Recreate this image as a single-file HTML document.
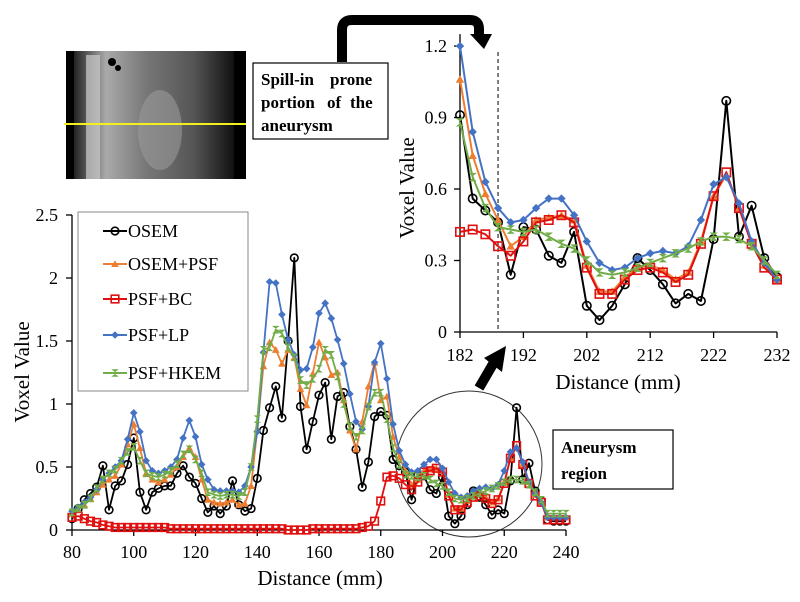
<!DOCTYPE html>
<html><head><meta charset="utf-8"><style>
html,body{margin:0;padding:0;background:#fff;}
svg{display:block;font-family:"Liberation Serif",serif;}
</style></head><body>
<svg id="fig" width="800" height="602" viewBox="0 0 800 602" xmlns="http://www.w3.org/2000/svg">
  <defs>
    <linearGradient id="ctg" x1="0" x2="1">
      <stop offset="0" stop-color="#222"/><stop offset="0.2" stop-color="#aaa"/><stop offset="0.45" stop-color="#777"/><stop offset="0.75" stop-color="#555"/><stop offset="1" stop-color="#111"/>
    </linearGradient>
  </defs>
  <g>
    <rect x="66" y="51" width="180" height="128" fill="#000"/>
    <rect x="74" y="51" width="160" height="128" fill="url(#ctg)"/>
    <rect x="86" y="55" width="14" height="124" fill="#ccc" opacity="0.7"/>
    <ellipse cx="160" cy="130" rx="22" ry="40" fill="#999" opacity="0.6"/>
    <circle cx="112" cy="62" r="4" fill="#000"/><circle cx="118" cy="68" r="3" fill="#000"/>
    <line x1="64" y1="124" x2="246" y2="124" stroke="#f0f020" stroke-width="2"/>
  </g>
  <g>
    <path d="M342 62 V30 Q342 20 352 20 H470 Q479 20 479 29 V36" fill="none" stroke="#000" stroke-width="10"/>
    <polygon points="470,34 492,34 484,49" fill="#000"/>
    <rect x="253" y="63" width="135" height="76" fill="#fff" stroke="#000" stroke-width="1.2"/>
    <text font-weight="bold" font-size="17">
      <tspan x="261" y="85">Spill-in</tspan><tspan x="330" y="85">prone</tspan>
      <tspan x="261" y="108">portion</tspan><tspan x="327" y="108">of</tspan><tspan x="350" y="108">the</tspan>
      <tspan x="261" y="131">aneurysm</tspan>
    </text>
  </g>
  <g>
    <circle cx="469" cy="464" r="73" fill="none" stroke="#333" stroke-width="1"/>
    <line x1="479" y1="388" x2="493" y2="364" stroke="#000" stroke-width="10"/>
    <polygon points="484,358 506,346 502,372" fill="#000"/>
    <rect x="553" y="430" width="120" height="59" fill="#fff" stroke="#000" stroke-width="1.2"/>
    <text font-weight="bold" font-size="17"><tspan x="561" y="453">Aneurysm</tspan><tspan x="561" y="479">region</tspan></text>
  </g>
  <g id="main"></g>
  <g id="inset"></g>
</svg>
<script>
const mainEarlyX0 = 80;
const blackEarly = [0.09,0.17,0.24,0.29,0.34,0.51,0.16,0.35,0.39,0.52,0.73,0.30,0.16,0.30,0.33,0.35,0.35,0.45,0.51,0.42,0.37,0.25,0.14,0.19,0.13,0.19,0.39,0.20,0.15,0.17,0.41,0.79,0.97,1.14,0.89,1.50,2.16,0.98,0.64,0.86,1.07,1.17,0.72,1.06,1.09,0.82,0.64,0.34,0.54,0.90,0.94];
const orangeEarly = [0.13,0.16,0.20,0.25,0.30,0.36,0.40,0.43,0.52,0.68,0.84,0.65,0.45,0.40,0.38,0.40,0.44,0.50,0.58,0.65,0.58,0.40,0.24,0.22,0.21,0.22,0.24,0.20,0.21,0.35,0.80,1.30,1.49,1.43,1.32,1.43,1.37,1.12,0.99,1.24,1.49,1.37,1.23,1.25,1.03,0.79,0.64,0.86,1.14,1.33,1.03];
const redEarly = [0.10,0.11,0.09,0.07,0.06,0.04,0.03,0.02,0.02,0.02,0.02,0.02,0.02,0.02,0.02,0.02,0.01,0.01,0.01,0.01,0.01,0.01,0.01,0.01,0.01,0.01,0.01,0.01,0.01,0.01,0.01,0.01,0.01,0.01,0.01,0.0,0.0,0.0,0.0,0.01,0.01,0.01,0.01,0.01,0.01,0.01,0.01,0.02,0.03,0.07,0.23];
const blueEarly = [0.15,0.18,0.22,0.26,0.32,0.40,0.45,0.50,0.55,0.72,0.93,0.78,0.55,0.47,0.45,0.47,0.50,0.56,0.73,0.87,0.74,0.52,0.40,0.32,0.31,0.31,0.31,0.30,0.35,0.50,0.78,1.41,1.97,1.96,1.71,1.51,1.39,1.27,1.28,1.45,1.72,1.80,1.68,1.51,1.32,1.08,0.86,0.80,0.98,1.33,1.48];
const greenEarly = [0.14,0.17,0.20,0.25,0.33,0.40,0.45,0.48,0.55,0.62,0.66,0.55,0.45,0.43,0.42,0.44,0.47,0.52,0.60,0.64,0.56,0.45,0.30,0.28,0.27,0.28,0.28,0.27,0.30,0.50,0.88,1.43,1.45,1.59,1.56,1.45,1.37,1.19,1.15,1.20,1.28,1.43,1.39,1.22,1.00,0.82,0.74,0.79,0.98,1.09,1.09];

const insetX0 = 182;
const blackInset = [0.91,0.56,0.51,0.46,0.24,0.44,0.43,0.32,0.29,0.42,0.11,0.05,0.11,0.20,0.31,0.26,0.20,0.12,0.16,0.13,0.39,0.97,0.40,0.53,0.31,0.23];
const orangeInset = [1.06,0.74,0.58,0.47,0.36,0.40,0.47,0.48,0.49,0.47,0.28,0.17,0.17,0.23,0.27,0.28,0.26,0.22,0.25,0.38,0.57,0.66,0.52,0.38,0.28,0.22];
const redInset = [0.42,0.43,0.41,0.36,0.32,0.38,0.46,0.47,0.49,0.46,0.27,0.16,0.16,0.22,0.26,0.27,0.25,0.21,0.24,0.37,0.57,0.67,0.52,0.37,0.27,0.22];
const blueInset = [1.20,0.84,0.63,0.52,0.46,0.47,0.52,0.56,0.56,0.49,0.38,0.29,0.26,0.27,0.31,0.33,0.34,0.33,0.36,0.47,0.62,0.65,0.54,0.38,0.29,0.22];
const greenInset = [0.88,0.65,0.52,0.44,0.43,0.42,0.43,0.40,0.37,0.35,0.30,0.25,0.24,0.25,0.27,0.29,0.31,0.33,0.35,0.38,0.40,0.40,0.39,0.36,0.30,0.24];

const blackTail = [0.08,0.07,0.07,0.07];
const orangeTail = [0.10,0.10,0.10,0.10];
const redTail = [0.08,0.08,0.08,0.08];
const blueTail = [0.10,0.10,0.10,0.10];
const greenTail = [0.13,0.13,0.13,0.13];

const seriesNames = ["OSEM","OSEM+PSF","PSF+BC","PSF+LP","PSF+HKEM"];
const mainXTicks = [80,100,120,140,160,180,200,220,240];
const mainYTicks = [0,0.5,1,1.5,2,2.5];
const mainYLabels = ["0","0.5","1","1.5","2","2.5"];
const insetXTicks = [182,192,202,212,222,232];
const insetYTicks = [0,0.3,0.6,0.9,1.2];
const insetYLabels = ["0","0.3","0.6","0.9","1.2"];
const spillLineX = 188;

const NS = "http://www.w3.org/2000/svg";
function mk(parent, tag, attrs, text){
  const e = document.createElementNS(NS, tag);
  for (const k in attrs) e.setAttribute(k, attrs[k]);
  if (text !== undefined) e.textContent = text;
  parent.appendChild(e);
  return e;
}
const styles = [
  {color:"#000000", marker:"circle"},
  {color:"#ED7D31", marker:"triangle"},
  {color:"#E01010", marker:"square"},
  {color:"#4472C4", marker:"diamond"},
  {color:"#70AD47", marker:"bowtie"}
];
function marker(g, type, x, y, s, color){
  let e;
  if (type === "circle") e = mk(g, "circle", {cx:x, cy:y, r:s, fill:"none", stroke:color, "stroke-width":1.6});
  else if (type === "square") e = mk(g, "rect", {x:x-s, y:y-s, width:2*s, height:2*s, fill:"none", stroke:color, "stroke-width":1.6});
  else if (type === "triangle") e = mk(g, "polygon", {points:`${x},${y-s} ${x+s},${y+s*0.8} ${x-s},${y+s*0.8}`, fill:color});
  else if (type === "diamond") e = mk(g, "polygon", {points:`${x},${y-s} ${x+s},${y} ${x},${y+s} ${x-s},${y}`, fill:color});
  else e = mk(g, "polygon", {points:`${x-s},${y-s} ${x+s},${y-s} ${x-s*0.3},${y} ${x+s},${y+s} ${x-s},${y+s} ${x+s*0.3},${y}`, fill:color});
  
  
}
function drawSeries(g, xs, vals, sx, sy, st, ms, lw, name){
  const sg = mk(g, "g", {});
  
  
  const pts = vals.map((v,i)=>`${sx(xs[i]).toFixed(1)},${sy(v).toFixed(1)}`).join(" ");
  const pl = mk(sg, "polyline", {points:pts, fill:"none", stroke:st.color, "stroke-width":lw, "stroke-linejoin":"round"});
  
  
  vals.forEach((v,i)=>marker(sg, st.marker, sx(xs[i]), sy(v), ms, st.color));
}

/* ---------- main chart ---------- */
const M = document.getElementById("main");
const mx = v => 72 + (v - 80) * 3.0875;
const my = v => 530 - v * 126;
const mainSeries = [
  blackEarly.concat(blackInset, blackTail),
  orangeEarly.concat(orangeInset, orangeTail),
  redEarly.concat(redInset, redTail),
  blueEarly.concat(blueInset, blueTail),
  greenEarly.concat(greenInset, greenTail)
];
const ax = mk(M, "g", {stroke:"#000", "stroke-width":1.3});


mk(ax, "line", {x1:mx(80), y1:my(0), x2:mx(240), y2:my(0)});
mk(ax, "line", {x1:mx(80), y1:my(0), x2:mx(80), y2:my(2.5)});
mainXTicks.forEach(t=>{
  mk(ax, "line", {x1:mx(t), y1:my(0), x2:mx(t), y2:my(0)+6});
  const tl = mk(M, "text", {x:mx(t), y:558, "font-size":18, "text-anchor":"middle"}, String(t));
  
  
});
mainYTicks.forEach((t,i)=>{
  mk(ax, "line", {x1:mx(80)-6, y1:my(t), x2:mx(80), y2:my(t)});
  const tl = mk(M, "text", {x:58, y:my(t)+6, "font-size":18, "text-anchor":"end"}, mainYLabels[i]);
  
  
});
const mxt = mk(M, "text", {x:320, y:585, "font-size":21, "text-anchor":"middle"}, "Distance (mm)");


const myt = mk(M, "text", {x:0, y:0, "font-size":21, "text-anchor":"middle", transform:"translate(29,372) rotate(-90)"}, "Voxel Value");


const mainXs = mainSeries[0].map((_,i)=>mainEarlyX0 + 2*i);
mainSeries.forEach((vals,k)=>drawSeries(M, mainXs, vals, mx, my, styles[k], 3.8, 1.8, 'series-' + seriesNames[k].toLowerCase().replace('+','-')));

/* legend */
const L = mk(M, "g", {});


mk(L, "rect", {x:78, y:212, width:170, height:179, fill:"#fff", stroke:"#888", "stroke-width":1});
const legY = [231,264,299,335,373];
seriesNames.forEach((n,k)=>{
  const eg = mk(L, "g", {});
  
  
  mk(eg, "line", {x1:103, y1:legY[k], x2:127, y2:legY[k], stroke:styles[k].color, "stroke-width":2});
  marker(eg, styles[k].marker, 115, legY[k], 3.8, styles[k].color);
  mk(eg, "text", {x:128, y:legY[k]+6, "font-size":18}, n);
});

/* ---------- inset chart ---------- */
const I = document.getElementById("inset");
const ix = v => 460 + (v - 182) * 6.34;
const iy = v => 332 - v * 238.3;
const iax = mk(I, "g", {stroke:"#000", "stroke-width":1.3});


mk(iax, "line", {x1:ix(182), y1:iy(0), x2:ix(232), y2:iy(0)});
mk(iax, "line", {x1:ix(182), y1:iy(0), x2:ix(182), y2:iy(1.25)});
insetXTicks.forEach(t=>{
  mk(iax, "line", {x1:ix(t), y1:iy(0), x2:ix(t), y2:iy(0)+6});
  const tl = mk(I, "text", {x:ix(t), y:361, "font-size":18, "text-anchor":"middle"}, String(t));
  
  
});
insetYTicks.forEach((t,i)=>{
  mk(iax, "line", {x1:ix(182)-6, y1:iy(t), x2:ix(182), y2:iy(t)});
  const tl = mk(I, "text", {x:447, y:iy(t)+6, "font-size":18, "text-anchor":"end"}, insetYLabels[i]);
  
  
});
const dl = mk(I, "line", {x1:ix(spillLineX), y1:52, x2:ix(spillLineX), y2:iy(0), stroke:"#000", "stroke-width":1, "stroke-dasharray":"4,3"});


const ixt = mk(I, "text", {x:618, y:389, "font-size":21, "text-anchor":"middle"}, "Distance (mm)");


const iyt = mk(I, "text", {x:0, y:0, "font-size":21, "text-anchor":"middle", transform:"translate(414,188) rotate(-90)"}, "Voxel Value");


const insetSeries = [blackInset, orangeInset, redInset, blueInset, greenInset];
const insetXs = blackInset.map((_,i)=>insetX0 + 2*i);
insetSeries.forEach((vals,k)=>drawSeries(I, insetXs, vals, ix, iy, styles[k], 4.2, 2, 'inset-series-' + seriesNames[k].toLowerCase().replace('+','-')));
</script>
</body></html>
